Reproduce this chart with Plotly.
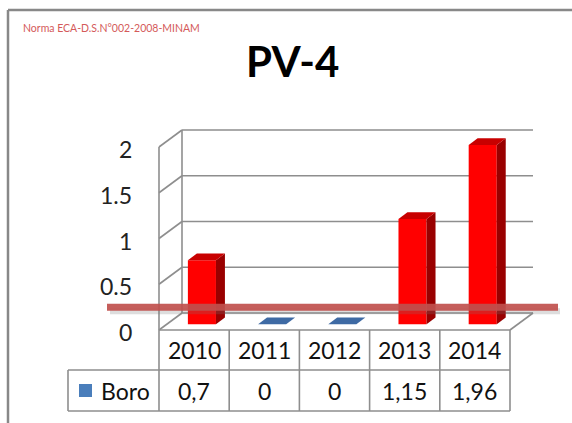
import plotly.graph_objects as go

# ---------------- data ----------------
years = ["2010", "2011", "2012", "2013", "2014"]
boro = [0.7, 0.0, 0.0, 1.15, 1.96]
series_name = "Boro"
y_ticks = [0, 0.5, 1, 1.5, 2]
y_tick_labels = ["0", "0.5", "1", "1.5", "2"]
title_text = "PV-4"
note_text = "Norma ECA-D.S.N°002-2008-MINAM"
norma_level = 0.25

# ---------------- geometry (layout only) ----------------
W, H = 572, 423
FRONT_LEFT_PX = 159.0
CAT_PX = 70.2
ZERO_PY = 330.0
UNIT_PY = 91.5

def px2x(px):
    return -0.5 + (px - FRONT_LEFT_PX) / CAT_PX

def py2y(py):
    return (ZERO_PY - py) / UNIT_PY

DX = 23 / CAT_PX      # depth vector, x units
DY = 17 / UNIT_PY     # depth vector, value units
D0, D1 = 0.34, 0.73   # bar depth span
BW = 0.40             # bar width (category units)

n = len(years)
x_left, x_right = -0.5, n - 0.5
vmax = max(y_ticks)

GRID = "#8e8e8e"
FONT = "Lato"
TXT = 23

fig = go.Figure()
shapes = []
annotations = []

def line(x0, y0, x1, y1, color=GRID, width=1.6, layer="below", xref="x", yref="y"):
    shapes.append(dict(type="line", x0=x0, y0=y0, x1=x1, y1=y1, xref=xref, yref=yref,
                       line=dict(color=color, width=width), layer=layer))

# walls & floor
for v in y_ticks:
    line(x_left + DX, v + DY, x_right + DX, v + DY)       # back wall grid
    line(x_left, v, x_left + DX, v + DY)                  # side wall grid
line(x_left, 0, x_left, vmax)
line(x_left + DX, DY, x_left + DX, vmax + DY)
line(x_left, 0, x_right, 0)
line(x_right, 0, x_right + DX, DY)

# table
row1_bot = py2y(370)
row2_bot = py2y(411)
legend_left = px2x(68)
for k in range(n + 1):
    line(x_left + k, 0, x_left + k, row2_bot)
line(legend_left, row1_bot, x_right, row1_bot)
line(legend_left, row2_bot, x_right, row2_bot)
line(legend_left, row1_bot, legend_left, row2_bot)

# bars: front faces via Bar, top & side faces via polygons
xc = [i + D0 * DX for i in range(n)]
fig.add_trace(go.Bar(x=xc, y=boro, base=[D0 * DY] * n, width=BW,
                     marker=dict(color="#ff0000", line=dict(width=0)),
                     hoverinfo="skip", showlegend=False))

def poly(xs, ys, color):
    fig.add_trace(go.Scatter(x=xs + [xs[0]], y=ys + [ys[0]], mode="lines", fill="toself",
                             fillcolor=color, line=dict(width=0, color=color),
                             hoverinfo="skip", showlegend=False))

dd = D1 - D0
for i, v in enumerate(boro):
    xl = xc[i] - BW / 2
    xr = xc[i] + BW / 2
    yb = D0 * DY
    top_col = "#c80000" if v > 0 else "#3e6aa4"
    if v > 0:
        poly([xr, xr, xr + dd * DX, xr + dd * DX],
             [yb, yb + v, yb + v + dd * DY, yb + dd * DY], "#990000")
    poly([xl, xr, xr + dd * DX, xl + dd * DX],
         [yb + v, yb + v, yb + v + dd * DY, yb + v + dd * DY], top_col)

# norma line with shadow
line(px2x(110), norma_level - 0.045, px2x(560), norma_level - 0.045,
     color="rgba(120,120,120,0.25)", width=6, layer="above")
line(px2x(107), norma_level, px2x(558), norma_level,
     color="rgba(192,80,77,0.92)", width=7, layer="above")

# y tick labels
for v, lab in zip(y_ticks, y_tick_labels):
    annotations.append(dict(x=px2x(134), y=v, text=lab, xanchor="right", yanchor="middle",
                            showarrow=False, yshift=-2,
                            font=dict(family=FONT, size=TXT, color="#222")))

# table text
for i, (yr, v) in enumerate(zip(years, boro)):
    annotations.append(dict(x=i, y=(0 + row1_bot) / 2, text=yr, showarrow=False,
                            xanchor="center", yanchor="middle",
                            font=dict(family=FONT, size=TXT, color="#111")))
    annotations.append(dict(x=i, y=(row1_bot + row2_bot) / 2,
                            text=f"{v:g}".replace(".", ","), showarrow=False,
                            xanchor="center", yanchor="middle",
                            font=dict(family=FONT, size=TXT, color="#111")))

row2_mid = (row1_bot + row2_bot) / 2
shapes.append(dict(type="rect", xref="x", yref="y",
                   x0=px2x(79), x1=px2x(92), y0=row2_mid - 6.5 / UNIT_PY, y1=row2_mid + 6.5 / UNIT_PY,
                   fillcolor="#4a7ebb", line=dict(width=0), layer="above"))
annotations.append(dict(x=px2x(99), y=row2_mid, text=series_name, showarrow=False,
                        xanchor="left", yanchor="middle",
                        font=dict(family=FONT, size=TXT, color="#111")))

# frame
line(8 / W, 1 - 10 / H, 1, 1 - 10 / H, color="#888888", width=2.5, xref="paper", yref="paper")
line(8 / W, 1 - 10 / H, 8 / W, 0, color="#888888", width=2.5, xref="paper", yref="paper")

# title & note
annotations.append(dict(x=293 / W, y=1 - 61 / H, xref="paper", yref="paper", text=f"<b>{title_text}</b>",
                        showarrow=False, xanchor="center", yanchor="middle",
                        font=dict(family=FONT, size=42, color="#000")))
annotations.append(dict(x=21 / W, y=1 - 28 / H, xref="paper", yref="paper", text=note_text,
                        showarrow=False, xanchor="left", yanchor="middle",
                        font=dict(family=FONT, size=10.5, color="#d45a5a")))

fig.update_layout(
    width=W, height=H, autosize=False,
    margin=dict(l=0, r=0, t=0, b=0),
    paper_bgcolor="white", plot_bgcolor="white",
    xaxis=dict(range=[px2x(0), px2x(W)], visible=False, fixedrange=True),
    yaxis=dict(range=[py2y(H), py2y(0)], visible=False, fixedrange=True),
    shapes=shapes, annotations=annotations, showlegend=False,
)

fig.write_html("out.html", config={"displayModeBar": False},
               post_script="document.body.style.margin='0';document.body.style.overflow='hidden';")
